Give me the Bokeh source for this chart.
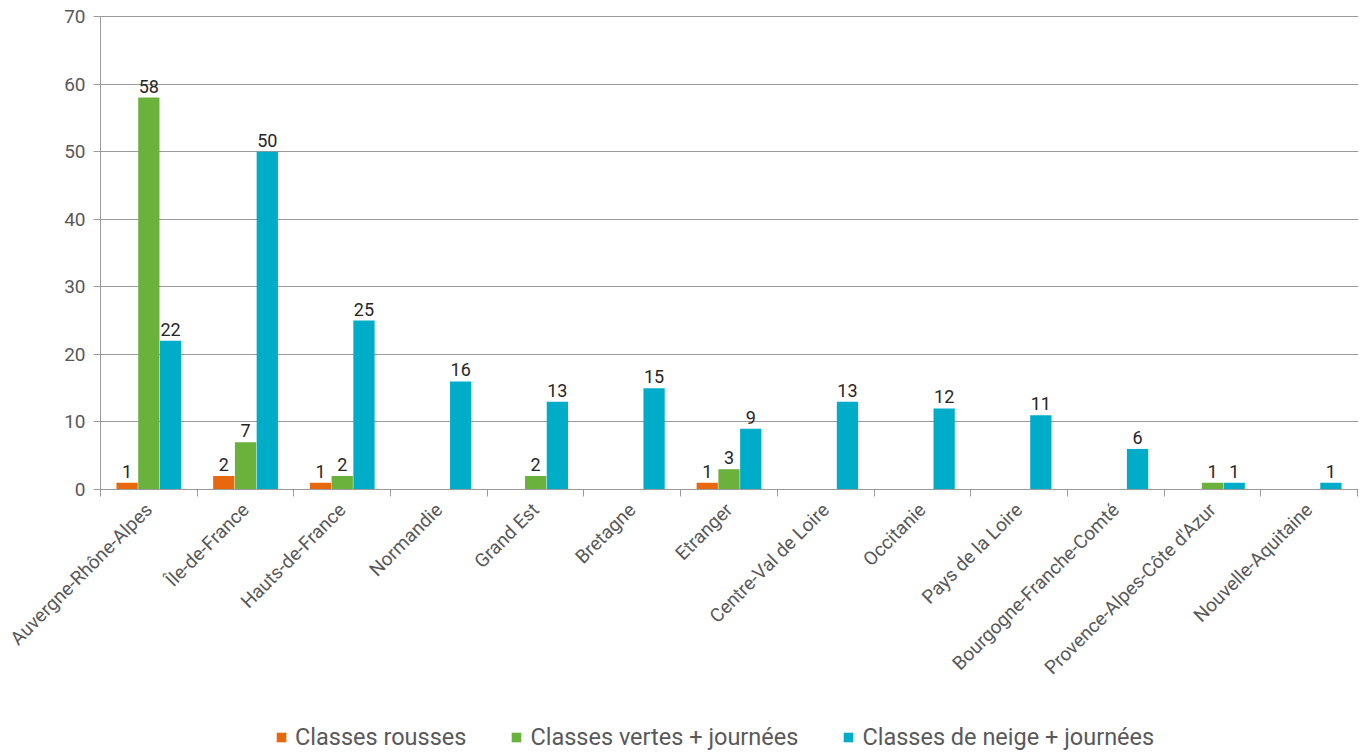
import math
from bokeh.plotting import figure
from bokeh.models import ColumnDataSource, FixedTicker, Legend, LegendItem, Range1d
from bokeh.transform import dodge
from bokeh.embed import file_html
from bokeh.resources import INLINE
from bokeh.core.properties import value

categories = ["Auvergne-Rhône-Alpes", "Île-de-France", "Hauts-de-France", "Normandie",
              "Grand Est", "Bretagne", "Etranger", "Centre-Val de Loire", "Occitanie",
              "Pays de la Loire", "Bourgogne-Franche-Comté", "Provence-Alpes-Côte d'Azur",
              "Nouvelle-Aquitaine"]
classes_rousses = [1, 2, 1, 0, 0, 0, 1, 0, 0, 0, 0, 0, 0]
classes_vertes = [58, 7, 2, 0, 2, 0, 3, 0, 0, 0, 0, 1, 0]
classes_neige = [22, 50, 25, 16, 13, 15, 9, 13, 12, 11, 6, 1, 1]
series_names = ["Classes rousses", "Classes vertes + journées", "Classes de neige + journées"]
series_values = [classes_rousses, classes_vertes, classes_neige]
colors = ["#E8690D", "#6AB23C", "#00ADC9"]
offsets = [-0.225, 0.0, 0.225]
y_ticks = [0, 10, 20, 30, 40, 50, 60, 70]

FONT = "Roboto"
n = len(categories)
xs = list(range(n))

# layout in pixels: plot area from x=100 to x=1357, y=16 (70) to y=489 (0);
# the frame is widened/extended so that axis labels and legend lie inside it
PX_LEFT, PX_RIGHT, PX_TOP, PX_ZERO = 100, 1357, 16, 489
FRAME_L, FRAME_R, FRAME_T, FRAME_B = 2, 1358, 0, 751
ux = (PX_RIGHT - PX_LEFT) / n
uy = (PX_ZERO - PX_TOP) / 70.0
x_start = -0.5 - (PX_LEFT - FRAME_L) / ux
x_end = n - 0.5 + (FRAME_R - PX_RIGHT) / ux
y_start = -(FRAME_B - PX_ZERO) / uy
y_end = 70 + (PX_TOP - FRAME_T) / uy

p = figure(frame_width=FRAME_R - FRAME_L, frame_height=FRAME_B - FRAME_T,
           x_range=Range1d(x_start, x_end), y_range=Range1d(y_start, y_end),
           output_backend="svg", toolbar_location=None,
           min_border_left=FRAME_L, min_border_right=2, min_border_top=FRAME_T,
           min_border_bottom=2)
p.outline_line_color = None
p.background_fill_color = "white"
p.border_fill_color = "white"

items = []
for name, vals, col, off in zip(series_names, series_values, colors, offsets):
    src = ColumnDataSource(dict(x=xs, v=vals))
    r = p.vbar(x=dodge("x", off), top="v", bottom=0, width=0.22, source=src,
               fill_color=col, line_color=None)
    items.append(LegendItem(label=name, renderers=[r]))
    lx = [x for x, v in zip(xs, vals) if v > 0]
    lv = [v for v in vals if v > 0]
    lsrc = ColumnDataSource(dict(x=lx, v=lv, t=[str(v) for v in lv]))
    p.text(x=dodge("x", off), y="v", text="t", source=lsrc, y_offset=-5,
           text_align="center", text_baseline="bottom", text_font=value(FONT),
           text_font_size="18px", text_color="#262626")

# y axis (pinned at the left category boundary)
p.yaxis.fixed_location = -0.5
p.yaxis.ticker = FixedTicker(ticks=y_ticks)
p.yaxis.bounds = (0, 70)
p.yaxis.axis_line_color = "#9A9A9A"
p.yaxis.major_tick_line_color = "#9A9A9A"
p.yaxis.major_tick_out = 7
p.yaxis.major_tick_in = 0
p.yaxis.minor_tick_line_color = None
p.yaxis.major_label_text_font = FONT
p.yaxis.major_label_text_font_size = "19px"
p.yaxis.major_label_text_color = "#595959"
p.yaxis.major_label_standoff = 8

# x axis (pinned at value 0)
boundaries = [i - 0.5 for i in range(n + 1)]
p.xaxis.fixed_location = 0
p.xaxis.bounds = (-0.5, n - 0.5)
p.xaxis.ticker = FixedTicker(ticks=xs, minor_ticks=boundaries)
p.xaxis.major_label_overrides = {i: c for i, c in enumerate(categories)}
p.xaxis.major_label_orientation = math.pi / 4
p.xaxis.axis_line_color = "#9A9A9A"
p.xaxis.major_tick_out = 0
p.xaxis.major_tick_in = 0
p.xaxis.minor_tick_out = 7
p.xaxis.minor_tick_in = 0
p.xaxis.minor_tick_line_color = "#9A9A9A"
p.xaxis.major_label_text_font = FONT
p.xaxis.major_label_text_font_size = "19px"
p.xaxis.major_label_text_color = "#595959"
p.xaxis.major_label_standoff = 10

p.xgrid.grid_line_color = None
p.ygrid.ticker = FixedTicker(ticks=y_ticks)
p.ygrid.cross_bounds = (-0.5, x_end)
p.ygrid.grid_line_color = "#9A9A9A"
p.ygrid.grid_line_width = 1

legend = Legend(items=items, orientation="horizontal", location=(273, 0),
                label_text_font=FONT, label_text_font_size="23.5px",
                label_text_color="#595959", glyph_width=12, glyph_height=12,
                label_standoff=8, spacing=44, border_line_color=None,
                background_fill_alpha=0, margin=0, padding=0)
p.add_layout(legend, "center")

open("out.html", "w").write(file_html(p, INLINE))
